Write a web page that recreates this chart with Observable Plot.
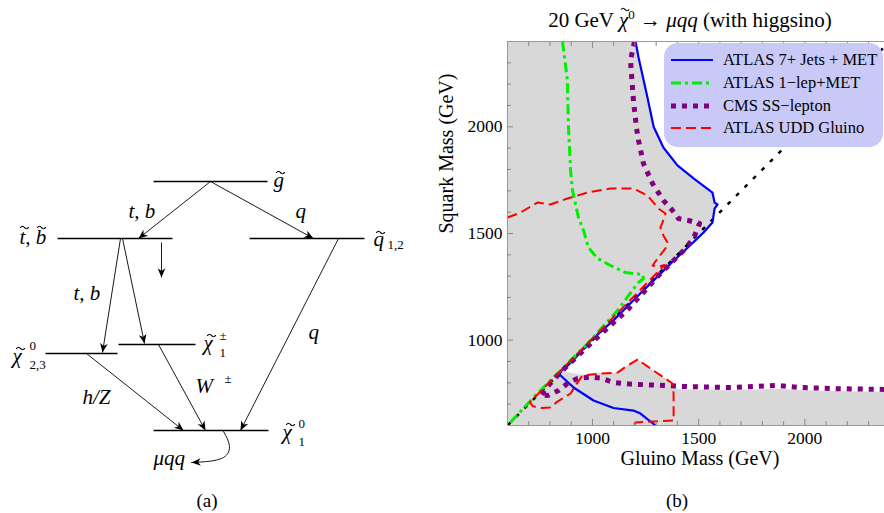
<!DOCTYPE html>
<html><head><meta charset="utf-8">
<script src="https://cdn.jsdelivr.net/npm/d3@7"></script>
<script src="https://cdn.jsdelivr.net/npm/@observablehq/plot@0.6"></script>
<style>
body{margin:0;background:#fff;}
#wrap{position:relative;width:884px;height:513px;overflow:hidden;font-family:"Liberation Serif",serif;color:#000;}
#wrap > svg{position:absolute;left:0;top:0;}
#wrap svg text{font-family:"Liberation Serif",serif;}
.ht{position:absolute;white-space:nowrap;font-family:"Liberation Serif",serif;}
.acc{position:relative;display:inline-block;}
.acc svg{position:absolute;left:1px;top:-1px;}
#legend{position:absolute;left:664px;top:43px;width:219px;height:104px;background:#c9c9f7;border-radius:14px;}
#legend .row{position:absolute;left:0;height:22px;width:219px;}
#legend .row svg{position:absolute;left:7px;top:5px;}
#legend .row span{position:absolute;left:59px;top:0;font-size:16.5px;line-height:22px;white-space:nowrap;}
</style></head><body><div id="wrap"></div>
<script>
// ---------- chart (b) data: [gluino mass, squark mass] in GeV ----------
const atlasJetsMET = [[1203,2400],[1217,2325],[1259,2137],[1288,2000],[1334,1903],[1400,1819],[1476,1758],[1565,1692],[1575,1645],[1589,1636],[1575,1617],[1565,1552],[1523,1505],[1462,1446],[1382,1372],[1306,1298],[1200,1194],[1100,1094],[990,996],[900,898],[840,844],[911,778],[1005,717],[1099,682],[1193,670],[1226,656],[1297,600]];
const atlas1Lep = [[859,2400],[882,2217],[887,2000],[897,1795],[906,1702],[934,1575],[958,1514],[981,1434],[1024,1383],[1085,1350],[1156,1317],[1236,1308],[1240,1289],[1212,1266],[1118,1139],[977,984],[722,731],[600,600]];
const cmsSSLepton = [[1198,2400],[1179,2311],[1193,2123],[1207,1997],[1217,1936],[1240,1828],[1283,1734],[1334,1655],[1377,1608],[1405,1570],[1452,1561],[1504,1547],[1476,1477],[1429,1420],[1320,1312],[1165,1142],[991,984],[850,850],[790,785],[755,738],[793,742],[840,764],[882,797],[930,820],[991,827],[1038,822],[1100,802],[1180,794],[1300,789],[1450,782],[1664,778],[1871,788],[1979,778],[2135,773],[2375,769]];
const atlasUDDGluino = [[600,1575],[661,1598],[741,1645],[802,1636],[882,1664],[977,1692],[1085,1711],[1193,1711],[1259,1678],[1311,1617],[1344,1594],[1330,1552],[1320,1528],[1334,1491],[1353,1458],[1344,1430],[1311,1388],[1283,1350],[1311,1345],[1339,1352],[1200,1210],[1000,1008],[800,806],[705,708],[720,690],[760,682],[800,684],[835,712],[897,750],[930,802],[953,834],[1038,844],[1118,848],[1165,881],[1212,909],[1287,858],[1377,797],[1382,750],[1382,623],[1287,619],[1203,614],[1193,600]];
const shadedRegion = [[600,600],[600,2400],[1203,2400],[1217,2325],[1259,2137],[1288,2000],[1334,1903],[1400,1819],[1476,1758],[1565,1692],[1575,1645],[1589,1636],[1575,1617],[1565,1552],[1523,1505],[1462,1446],[1306,1298],[1000,994],[872,852],[953,838],[1038,846],[1118,850],[1165,883],[1212,911],[1287,860],[1380,798],[1400,770],[1664,766],[1871,772],[1979,766],[2135,762],[2375,758],[2375,600]];
const massDiagonal = [[600,600],[2400,2400]];
const gluinoDomain = [600,2375];
const squarkDomain = [600,2400];
const gluinoTicks = [1000,1500,2000];
const squarkTicks = [1000,1500,2000];
const minorStep = 100;
const seriesNames = ["ATLAS 7+ Jets + MET","ATLAS 1\u2212lep+MET","CMS SS\u2212lepton","ATLAS UDD Gluino"];
const seriesColors = ["#0000ff","#00ee00","#800080","#ff0000"];
const seriesWidths = [2.2,3,5,2];
const seriesDash = [null,"10,4,3,4","5,6","10,5"];
const xLabel = "Gluino Mass (GeV)";
const yLabel = "Squark Mass (GeV)";

// ---------- diagram (a) data, in diagram units ----------
const levels = [
  {x1:153,x2:267,y:181},{x1:57,x2:172,y:238},{x1:249,x2:364,y:238},
  {x1:45,x2:117,y:353},{x1:118,x2:195,y:344},{x1:153,x2:268,y:430}
];
const decays = [
  {x1:210,y1:181,x2:138,y2:238},{x1:210,y1:181,x2:313,y2:238},
  {x1:120,y1:238,x2:102,y2:352},{x1:122,y1:238,x2:144,y2:343},
  {x1:86,y1:353,x2:183,y2:430},{x1:158,y1:344,x2:205,y2:430},
  {x1:338,y1:238,x2:240,y2:430},{x1:161,y1:242,x2:161,y2:277}
];
const finalDecay = [[223,431],[229,446],[221,458],[200,461.5],[191,462]];
const italicLabels = [
  {x:273,y:180,t:"g"},{x:19,y:237,t:"t, b"},{x:373,y:239,t:"q"},
  {x:128,y:211,t:"t, b"},{x:295,y:211,t:"q"},{x:73,y:293,t:"t, b"},{x:308,y:332,t:"q"},
  {x:12,y:356,t:"\u03c7"},{x:203,y:343,t:"\u03c7"},{x:82,y:397,t:"h/Z"},
  {x:195,y:386,t:"W"},{x:282,y:432,t:"\u03c7"},{x:153,y:458,t:"\u03bcqq"}
];
const tildeCenters = [
  {x:280,y:172},{x:24,y:227},{x:41,y:227},{x:380,y:232},
  {x:20,y:348},{x:211,y:335},{x:290,y:424}
];
const scriptLabels = [
  {x:387,y:244,t:"1,2"},{x:29,y:345,t:"0"},{x:29,y:364,t:"2,3"},
  {x:219,y:335,t:"\u00b1"},{x:219,y:352,t:"1"},{x:224,y:378,t:"\u00b1"},
  {x:298,y:423,t:"0"},{x:298,y:441,t:"1"}
];
const panelLabels = [{x:207,y:501,t:"(a)"},{x:677,y:501,t:"(b)"}];

const wrap = document.getElementById("wrap");
const P = d => d[0], Q = d => d[1];
const minorX = d3.range(700, gluinoDomain[1], minorStep).filter(v => !gluinoTicks.includes(v));
const minorY = d3.range(700, squarkDomain[1], minorStep).filter(v => !squarkTicks.includes(v));
const blank = () => "";
const FF = "Liberation Serif";
const intFmt = d3.format("d");

const chart = Plot.plot({
  width: 884, height: 513, marginLeft: 507, marginRight: 0, marginTop: 41, marginBottom: 88,
  x: {domain: gluinoDomain}, y: {domain: squarkDomain},
  style: {fontFamily: FF, fontSize: "17.5px", background: "transparent", overflow: "visible"},
  marks: [
    Plot.line(shadedRegion, {x: P, y: Q, fill: "#d8d8d8", stroke: null}),
    Plot.line(massDiagonal, {x: P, y: Q, stroke: "#000", strokeWidth: 2.5, strokeDasharray: "4,8", strokeLinecap: "butt", clip: true}),
    ...[atlasJetsMET, atlas1Lep, cmsSSLepton, atlasUDDGluino].map((s, i) =>
      Plot.line(s, {x: P, y: Q, stroke: seriesColors[i], strokeWidth: seriesWidths[i], strokeDasharray: seriesDash[i], strokeLinecap: "butt", strokeLinejoin: "round", clip: true})),
    Plot.frame({stroke: "#999"}),
    Plot.axisX(gluinoTicks, {tickSize: -6, tickPadding: 12, stroke: "#888", fill: "#000", fontSize: 17.5, fontFamily: FF, tickFormat: intFmt, label: null}),
    Plot.axisX(minorX, {tickSize: -4, tickFormat: blank, stroke: "#888", label: null}),
    Plot.axisX(gluinoTicks, {anchor: "top", tickSize: -6, tickFormat: blank, stroke: "#888", label: null}),
    Plot.axisX(minorX, {anchor: "top", tickSize: -4, tickFormat: blank, stroke: "#888", label: null}),
    Plot.axisY(squarkTicks, {tickSize: -6, tickPadding: 11, stroke: "#888", fill: "#000", fontSize: 17.5, fontFamily: FF, tickFormat: intFmt, label: null}),
    Plot.axisY(minorY, {tickSize: -4, tickFormat: blank, stroke: "#888", label: null}),
    Plot.text([xLabel], {frameAnchor: "bottom", dy: 39, dx: 4, fontSize: 20, fontFamily: FF}),
    Plot.text([yLabel], {frameAnchor: "left", dx: -61, rotate: -90, fontSize: 20, fontFamily: FF})
  ]
});
wrap.appendChild(chart);

// stealth arrowhead symbol: tip at origin, pointing up
const stealth = {draw(ctx, size) {
  const L = Math.sqrt(size / Math.PI) * 2.3;
  ctx.moveTo(0, 0); ctx.lineTo(-0.42 * L, L); ctx.lineTo(0, 0.72 * L); ctx.lineTo(0.42 * L, L); ctx.closePath();
}};
const heads = decays.map(d => ({x: d.x2, y: d.y2, a: Math.atan2(d.x2 - d.x1, -(d.y2 - d.y1)) * 180 / Math.PI}));
{
  const a = finalDecay[finalDecay.length - 2], b = finalDecay[finalDecay.length - 1];
  heads.push({x: b[0], y: b[1], a: Math.atan2(b[0] - a[0], -(b[1] - a[1])) * 180 / Math.PI});
}
// tilde accent glyph shape around each centre (a small wave)
const tildeShape = d3.range(9).map(k => [k - 4, -1.3 * Math.sin(k / 8 * 2 * Math.PI)]);
const tildePts = tildeCenters.flatMap((c, i) => tildeShape.map(([dx, dy]) => ({id: i, x: c.x + dx, y: c.y + dy})));

const diagram = Plot.plot({
  width: 420, height: 513, margin: 0,
  x: {domain: [0, 420], range: [0, 420], axis: null},
  y: {domain: [0, 513], range: [0, 513], axis: null},
  style: {fontFamily: FF, background: "transparent", overflow: "visible"},
  marks: [
    Plot.link(levels, {x1: "x1", x2: "x2", y1: "y", y2: "y", stroke: "#000", strokeWidth: 1.4}),
    Plot.link(decays, {x1: "x1", y1: "y1", x2: "x2", y2: "y2", stroke: "#000", strokeWidth: 0.9}),
    Plot.line(finalDecay, {x: P, y: Q, curve: "natural", stroke: "#000", strokeWidth: 0.9}),
    Plot.dot(heads, {x: "x", y: "y", rotate: "a", symbol: stealth, r: 4, fill: "#000", stroke: null}),
    Plot.line(tildePts, {x: "x", y: "y", z: "id", curve: "natural", stroke: "#000", strokeWidth: 1.1}),
    Plot.text(italicLabels, {x: "x", y: "y", text: "t", textAnchor: "start", fontStyle: "italic", fontFamily: FF, fontSize: 21, fill: "#000"}),
    Plot.text(scriptLabels, {x: "x", y: "y", text: "t", textAnchor: "start", fontFamily: FF, fontSize: 13, fill: "#000"})
  ]
});
wrap.appendChild(diagram);

// panel labels and title
for (const p of panelLabels) {
  const el = document.createElement("div");
  el.className = "ht"; el.textContent = p.t;
  el.style.cssText = `left:${p.x}px;top:${p.y}px;transform:translate(-50%,-50%);font-size:19px;`;
  wrap.appendChild(el);
}
const tildeSvg = `<svg width="10" height="5" viewBox="-5 -2.5 10 5"><path d="${d3.line().curve(d3.curveNatural)(tildeShape)}" fill="none" stroke="#000" stroke-width="1.1"/></svg>`;
const title = document.createElement("div");
title.className = "ht";
title.innerHTML = `20 GeV <span class="acc"><i>\u03c7</i>${tildeSvg}</span><sup style="font-size:13px">0</sup> \u2192 <i>\u03bcqq</i> (with higgsino)`;
title.style.cssText = "left:690px;top:20px;transform:translate(-50%,-50%);font-size:21px;";
wrap.appendChild(title);

// legend
const legend = document.createElement("div");
legend.id = "legend";
const rowTops = [6, 29, 52, 74];
seriesNames.forEach((name, i) => {
  const row = document.createElement("div");
  row.className = "row"; row.style.top = rowTops[i] + "px";
  const svg = d3.create("svg").attr("width", 42).attr("height", 12);
  svg.append("line").attr("x1", 0).attr("x2", 42).attr("y1", 6).attr("y2", 6)
    .attr("stroke", seriesColors[i]).attr("stroke-width", seriesWidths[i])
    .attr("stroke-dasharray", seriesDash[i]);
  row.appendChild(svg.node());
  const sp = document.createElement("span"); sp.textContent = name;
  row.appendChild(sp);
  legend.appendChild(row);
});
wrap.appendChild(legend);
</script></body></html>
